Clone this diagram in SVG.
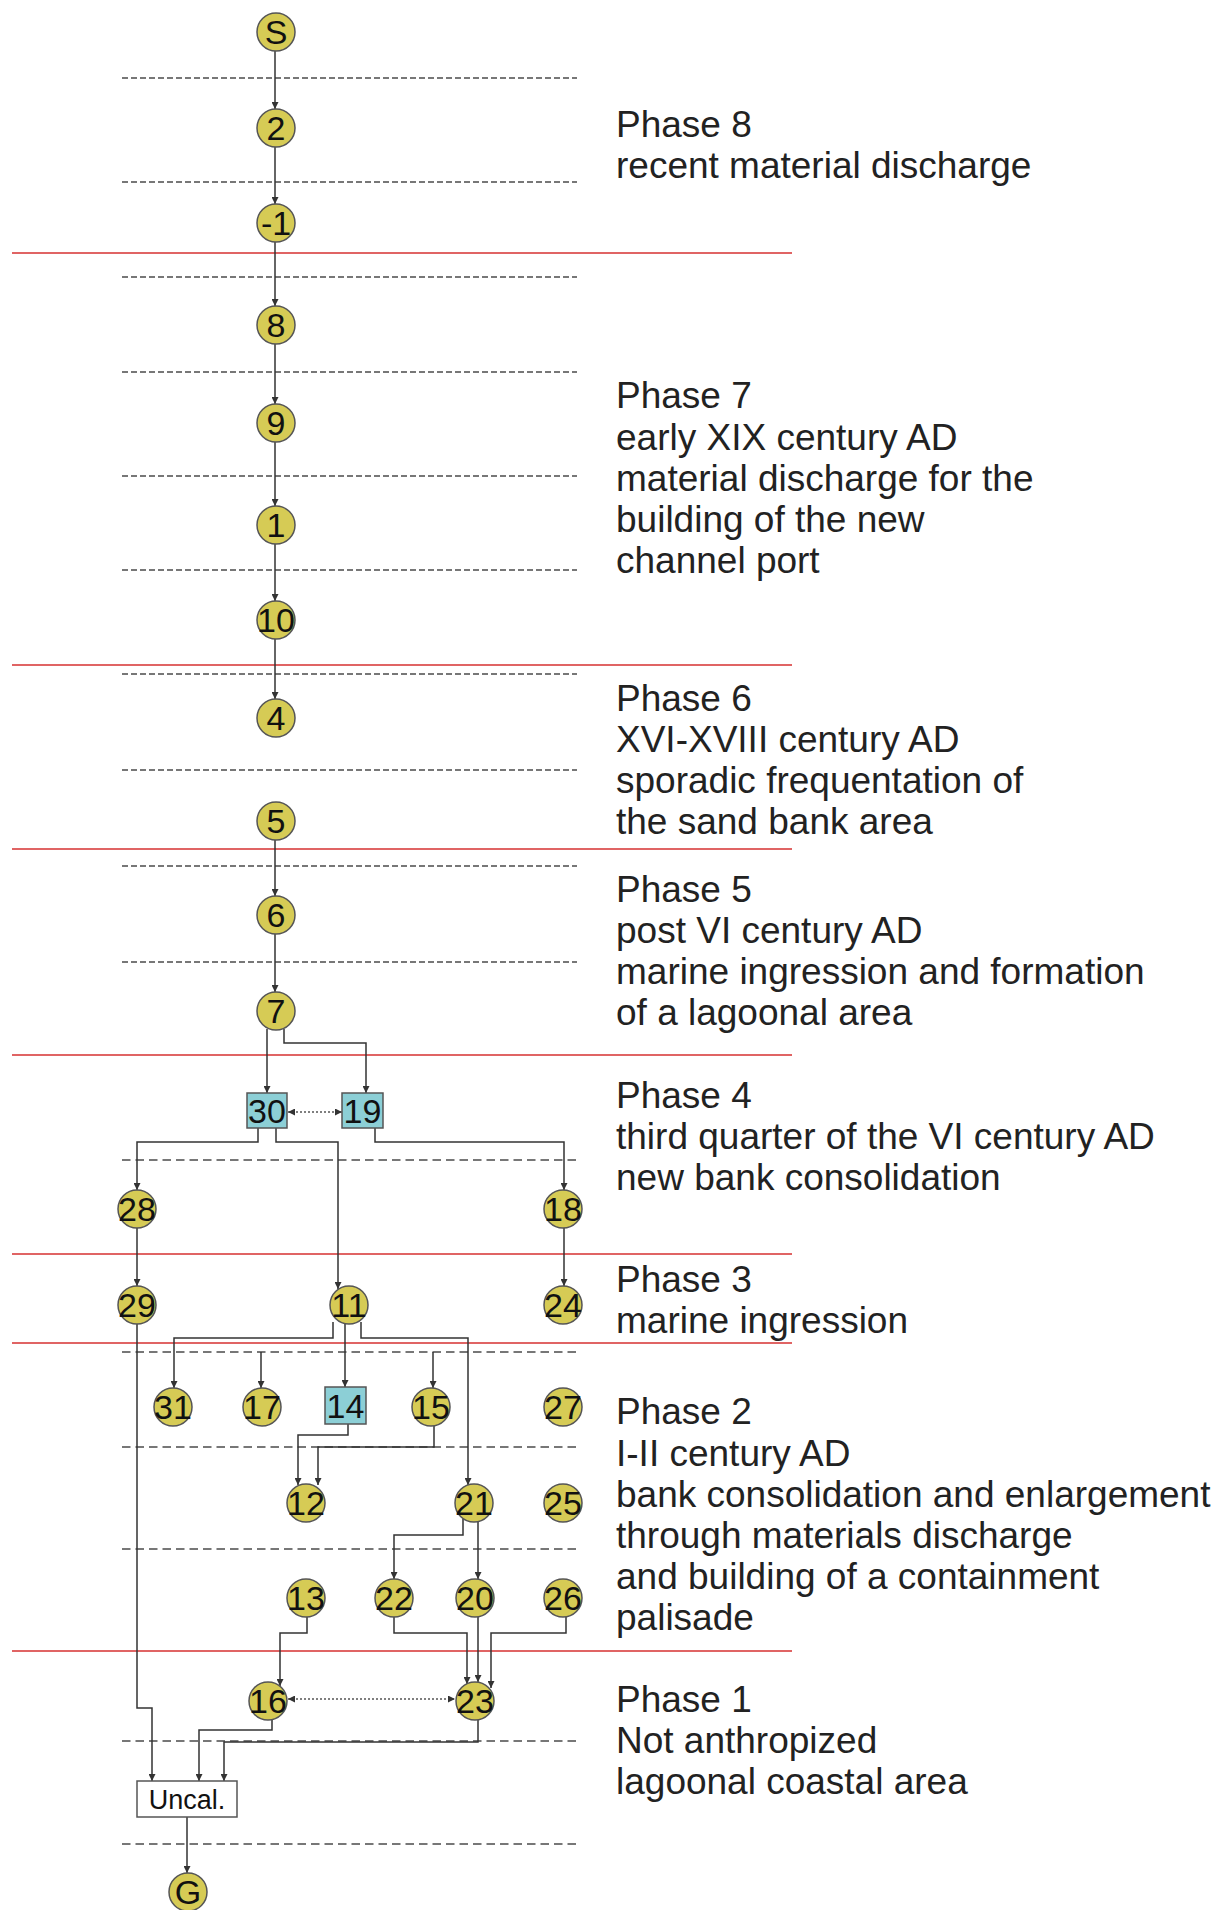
<svg xmlns="http://www.w3.org/2000/svg" width="1223" height="1910" viewBox="0 0 1223 1910">
<defs>
<style>
.red{stroke:#e06464;stroke-width:2;fill:none}
.dsh{stroke:#777;stroke-width:2;stroke-dasharray:6 3;fill:none}
.dsh2{stroke:#777;stroke-width:2;stroke-dasharray:8.5 5;fill:none}
.c{stroke:#333;stroke-width:1.5;fill:none}
.dot{stroke:#555;stroke-width:1.3;stroke-dasharray:2 2;fill:none}
.n circle{fill:#d6cb55;stroke:#555;stroke-width:1.5}
.b rect{fill:#8ccfd6;stroke:#555;stroke-width:1.5}
.u rect{fill:#fff;stroke:#555;stroke-width:1.5}
.n text,.b text{font-family:"Liberation Sans",Arial,sans-serif;font-size:34px;fill:#111;text-anchor:middle}
.u text{font-family:"Liberation Sans",Arial,sans-serif;font-size:27px;fill:#111;text-anchor:middle}
.ph{font-family:"Liberation Sans",Arial,sans-serif;font-size:37px;fill:#222}
</style>
<marker id="a" viewBox="0 0 8 8" refX="8" refY="4" markerWidth="7" markerHeight="7" markerUnits="userSpaceOnUse" orient="auto">
<path d="M0,0 L8,4 L0,8 z" fill="#333"/>
</marker>
<marker id="as" viewBox="0 0 8 8" refX="0" refY="4" markerWidth="7" markerHeight="7" markerUnits="userSpaceOnUse" orient="auto">
<path d="M8,0 L0,4 L8,8 z" fill="#333"/>
</marker>
</defs>
<rect width="1223" height="1910" fill="#fff"/>

<g id="phase-lines">
<path class="red" d="M12,253H792M12,665H792M12,849H792M12,1055H792M12,1254H792M12,1343H792M12,1651H792"/>
<path class="dsh" d="M122,78H577M122,182H577M122,277H577M122,372H577M122,476H577M122,570H577M122,674H577M122,770H577M122,866H577M122,962H577"/>
<path class="dsh2" d="M122,1160H577M122,1352H577M122,1447H577M122,1549H577M122,1741H577M122,1844H577"/>
</g>

<g id="connectors">
<path class="c" marker-end="url(#a)" d="M275,51V109"/>
<path class="c" marker-end="url(#a)" d="M275,147V204"/>
<path class="c" marker-end="url(#a)" d="M275,242V306"/>
<path class="c" marker-end="url(#a)" d="M275,344V404"/>
<path class="c" marker-end="url(#a)" d="M275,442V506"/>
<path class="c" marker-end="url(#a)" d="M275,544V601"/>
<path class="c" marker-end="url(#a)" d="M275,639V699"/>
<path class="c" marker-end="url(#a)" d="M275,840V896"/>
<path class="c" marker-end="url(#a)" d="M275,934V992"/>
<path class="c" marker-end="url(#a)" d="M267,1029V1093"/>
<path class="c" marker-end="url(#a)" d="M284,1029V1043H366V1093"/>
<path class="dot" marker-start="url(#as)" marker-end="url(#a)" d="M288,1112H342"/>
<path class="c" marker-end="url(#a)" d="M258,1128V1142H137V1190"/>
<path class="c" marker-end="url(#a)" d="M276,1128V1142H338V1289"/>
<path class="c" marker-end="url(#a)" d="M375,1128V1142H564V1190"/>
<path class="c" marker-end="url(#a)" d="M137,1228V1286"/>
<path class="c" marker-end="url(#a)" d="M564,1228V1286"/>
<path class="c" marker-end="url(#a)" d="M137,1324V1708H152V1781"/>
<path class="c" marker-end="url(#a)" d="M333,1322V1338H174V1388"/>
<path class="c" marker-end="url(#a)" d="M345,1324V1387"/>
<path class="c" marker-end="url(#a)" d="M361,1322V1338H468V1485"/>
<path class="c" marker-end="url(#a)" d="M261,1352V1388"/>
<path class="c" marker-end="url(#a)" d="M433,1352V1388"/>
<path class="c" marker-end="url(#a)" d="M348,1424V1435H298V1485"/>
<path class="c" marker-end="url(#a)" d="M434,1426V1447H318V1485"/>
<path class="c" marker-end="url(#a)" d="M463,1519V1535H394V1579"/>
<path class="c" marker-end="url(#a)" d="M478,1522V1579"/>
<path class="c" marker-end="url(#a)" d="M307,1617V1633H280V1686"/>
<path class="c" marker-end="url(#a)" d="M394,1617V1633H467V1684"/>
<path class="c" marker-end="url(#a)" d="M478,1617V1682"/>
<path class="c" marker-end="url(#a)" d="M566,1617V1633H491V1688"/>
<path class="dot" marker-start="url(#as)" marker-end="url(#a)" d="M288,1699H455"/>
<path class="c" marker-end="url(#a)" d="M272,1720V1730H199V1781"/>
<path class="c" marker-end="url(#a)" d="M478,1720V1742H224V1781"/>
<path class="c" marker-end="url(#a)" d="M187,1817V1873"/>
</g>

<g id="nS" class="n"><circle cx="276" cy="32" r="19"/><text x="276" y="44">S</text></g>
<g id="n2" class="n"><circle cx="276" cy="128" r="19"/><text x="276" y="140">2</text></g>
<g id="n-1" class="n"><circle cx="276" cy="223" r="19"/><text x="276" y="235">-1</text></g>
<g id="n8" class="n"><circle cx="276" cy="325" r="19"/><text x="276" y="337">8</text></g>
<g id="n9" class="n"><circle cx="276" cy="423" r="19"/><text x="276" y="435">9</text></g>
<g id="n1" class="n"><circle cx="276" cy="525" r="19"/><text x="276" y="537">1</text></g>
<g id="n10" class="n"><circle cx="276" cy="620" r="19"/><text x="276" y="632">10</text></g>
<g id="n4" class="n"><circle cx="276" cy="718" r="19"/><text x="276" y="730">4</text></g>
<g id="n5" class="n"><circle cx="276" cy="821" r="19"/><text x="276" y="833">5</text></g>
<g id="n6" class="n"><circle cx="276" cy="915" r="19"/><text x="276" y="927">6</text></g>
<g id="n7" class="n"><circle cx="276" cy="1011" r="19"/><text x="276" y="1023">7</text></g>
<g id="n30" class="b"><rect x="247" y="1093" width="40" height="35"/><text x="267" y="1123">30</text></g>
<g id="n19" class="b"><rect x="342" y="1093" width="41" height="35"/><text x="362.5" y="1123">19</text></g>
<g id="n28" class="n"><circle cx="137" cy="1209" r="19"/><text x="137" y="1221">28</text></g>
<g id="n18" class="n"><circle cx="563" cy="1209" r="19"/><text x="563" y="1221">18</text></g>
<g id="n29" class="n"><circle cx="137" cy="1305" r="19"/><text x="137" y="1317">29</text></g>
<g id="n11" class="n"><circle cx="349" cy="1305" r="19"/><text x="349" y="1317">11</text></g>
<g id="n24" class="n"><circle cx="563" cy="1305" r="19"/><text x="563" y="1317">24</text></g>
<g id="n31" class="n"><circle cx="173" cy="1407" r="19"/><text x="173" y="1419">31</text></g>
<g id="n17" class="n"><circle cx="262" cy="1407" r="19"/><text x="262" y="1419">17</text></g>
<g id="n14" class="b"><rect x="325" y="1387" width="41" height="37"/><text x="345.5" y="1418">14</text></g>
<g id="n15" class="n"><circle cx="431" cy="1407" r="19"/><text x="431" y="1419">15</text></g>
<g id="n27" class="n"><circle cx="563" cy="1407" r="19"/><text x="563" y="1419">27</text></g>
<g id="n12" class="n"><circle cx="306" cy="1503" r="19"/><text x="306" y="1515">12</text></g>
<g id="n21" class="n"><circle cx="474" cy="1503" r="19"/><text x="474" y="1515">21</text></g>
<g id="n25" class="n"><circle cx="563" cy="1503" r="19"/><text x="563" y="1515">25</text></g>
<g id="n13" class="n"><circle cx="306" cy="1598" r="19"/><text x="306" y="1610">13</text></g>
<g id="n22" class="n"><circle cx="394" cy="1598" r="19"/><text x="394" y="1610">22</text></g>
<g id="n20" class="n"><circle cx="475" cy="1598" r="19"/><text x="475" y="1610">20</text></g>
<g id="n26" class="n"><circle cx="563" cy="1598" r="19"/><text x="563" y="1610">26</text></g>
<g id="n16" class="n"><circle cx="268" cy="1701" r="19"/><text x="268" y="1713">16</text></g>
<g id="n23" class="n"><circle cx="475" cy="1701" r="19"/><text x="475" y="1713">23</text></g>
<g id="nUncal" class="u"><rect x="137" y="1781" width="100" height="36"/><text x="187" y="1809">Uncal.</text></g>
<g id="nG" class="n"><circle cx="188" cy="1892" r="19"/><text x="188" y="1904">G</text></g>

<g id="phase-labels" class="ph">
<text x="616" y="137">Phase 8</text>
<text x="616" y="178">recent material discharge</text>
<text x="616" y="408">Phase 7</text>
<text x="616" y="449.5">early XIX century AD</text>
<text x="616" y="491">material discharge for the</text>
<text x="616" y="532">building of the new</text>
<text x="616" y="573">channel port</text>
<text x="616" y="710.5">Phase 6</text>
<text x="616" y="752">XVI-XVIII century AD</text>
<text x="616" y="793">sporadic frequentation of</text>
<text x="616" y="834">the sand bank area</text>
<text x="616" y="901.5">Phase 5</text>
<text x="616" y="943">post VI century AD</text>
<text x="616" y="984">marine ingression and formation</text>
<text x="616" y="1025">of a lagoonal area</text>
<text x="616" y="1107.5">Phase 4</text>
<text x="616" y="1149">third quarter of the VI century AD</text>
<text x="616" y="1190">new bank consolidation</text>
<text x="616" y="1291.5">Phase 3</text>
<text x="616" y="1333">marine ingression</text>
<text x="616" y="1424">Phase 2</text>
<text x="616" y="1465.5">I-II century AD</text>
<text x="616" y="1507">bank consolidation and enlargement</text>
<text x="616" y="1548">through materials discharge</text>
<text x="616" y="1589">and building of a containment</text>
<text x="616" y="1630">palisade</text>
<text x="616" y="1711.5">Phase 1</text>
<text x="616" y="1753">Not anthropized</text>
<text x="616" y="1794">lagoonal coastal area</text>
</g>
</svg>
